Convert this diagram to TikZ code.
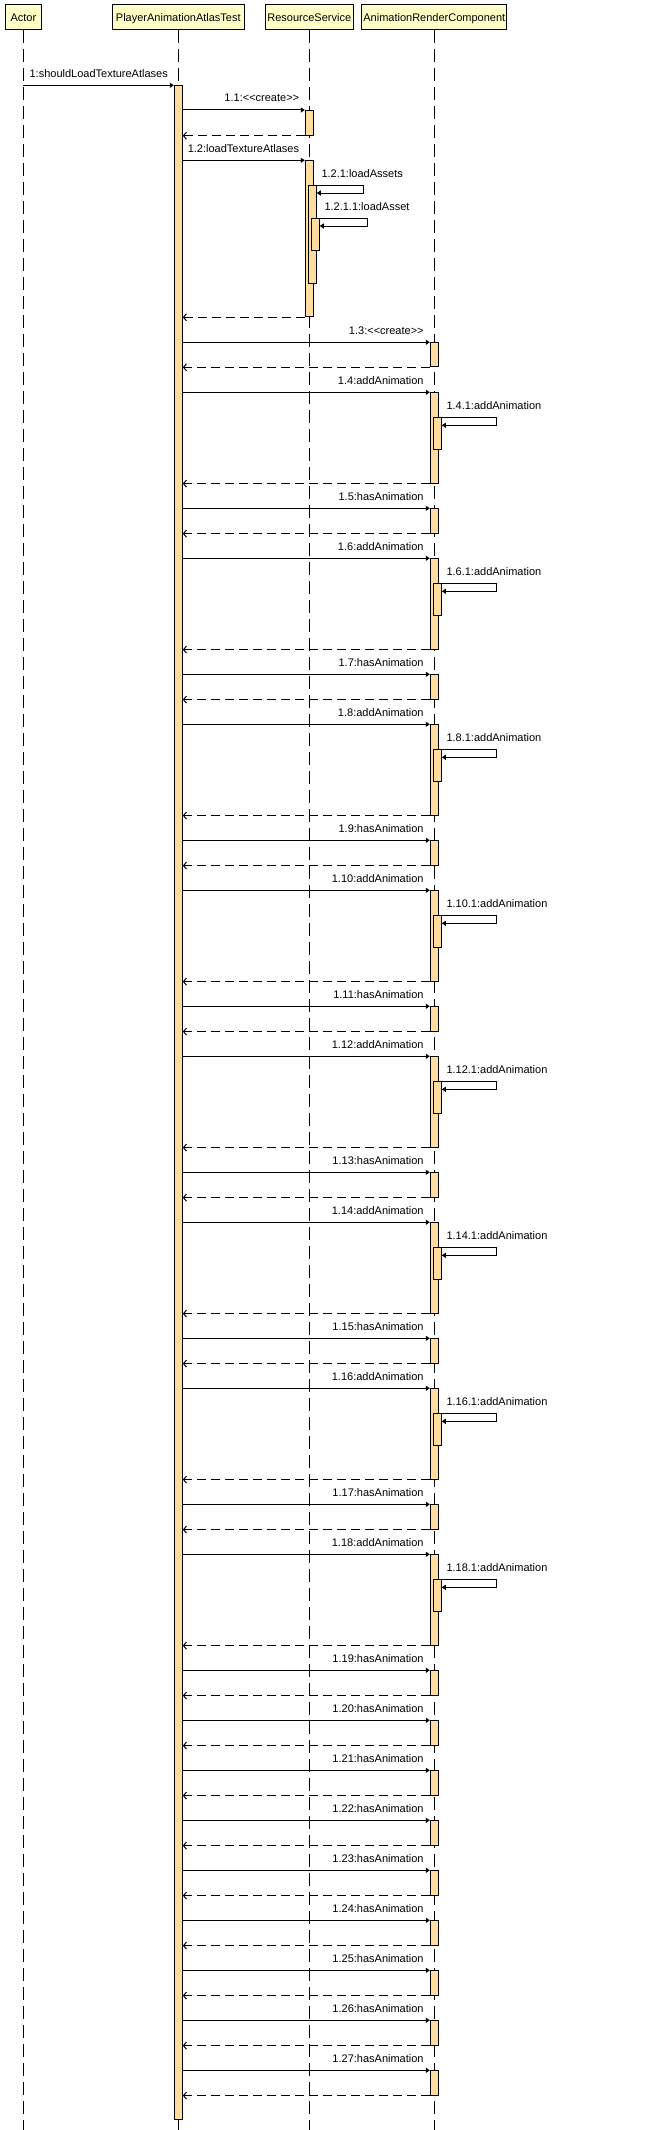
\documentclass[tikz,border=0pt]{standalone}
\usepackage{fontspec}
\newfontfamily\umlfont{Liberation Sans}
\usepackage{tikz}
\usetikzlibrary{arrows.meta}
\definecolor{boxyellow}{RGB}{255,255,200}
\definecolor{actorange}{RGB}{255,220,160}
\pgfdeclarelayer{nodelayer}
\pgfdeclarelayer{edgelayer}
\pgfsetlayers{edgelayer,nodelayer,main}
\tikzstyle{none}=[inner sep=0pt]
\tikzset{lifebox/.style={draw, fill=boxyellow, line width=1pt, inner sep=0pt, minimum height=24.5pt, text height=7.9pt, text depth=0pt}}
\tikzset{act/.style={draw, fill=actorange, line width=1pt, inner sep=0pt, minimum width=8pt, anchor=north}}
\tikzset{msglabel/.style={inner sep=0pt, anchor=base east}}
\tikzset{selflabel/.style={inner sep=0pt, anchor=base west}}
\tikzset{msg/.style={line width=1pt, -{Triangle[length=4pt, width=5pt]}}}
\tikzset{ret/.style={line width=1pt, dash pattern=on 9pt off 5pt, -{Straight Barb[length=3pt, width=7pt]}}}
\tikzset{lifeline/.style={line width=1pt, dash pattern=on 13pt off 6pt}}

\begin{document}
\begin{tikzpicture}[x=1pt, y=1pt, font=\umlfont\fontsize{11}{13}\selectfont]
        \useasboundingbox (0, 0) rectangle (658, -2130);
        \begin{pgfonlayer}{nodelayer}
            \node [style=lifebox, minimum width=36.5pt] (0) at (23.4, -17.25) {Actor};
            \node [style=lifebox, minimum width=131.7pt] (1) at (178.3, -17.25) {PlayerAnimationAtlasTest};
            \node [style=lifebox, minimum width=88pt] (2) at (309.3, -17.25) {ResourceService};
            \node [style=lifebox, minimum width=145.2pt] (3) at (434.3, -17.25) {AnimationRenderComponent};
            \node [style=none] (4) at (0, -2130) {};
            \node [style=act, minimum height=2034pt] (5) at (178.3, -85.3) {};
            \node [style=msglabel] (6) at (168, -77.3) {1:shouldLoadTextureAtlases};

            \node [style=act, minimum height=24.7pt] (7) at (309.3, -110) {};
            \node [style=msglabel] (8) at (299.3, -102) {1.1:<<create>>};

            \node [style=act, minimum height=156pt] (9) at (309.3, -160.3) {};
            \node [style=msglabel] (10) at (299.3, -152.3) {1.2:loadTextureAtlases};
            \node [style=act, minimum height=98pt] (11) at (312.3, -185.3) {};
            \node [style=selflabel] (12) at (321.3, -177.3) {1.2.1:loadAssets};
            \node [style=none] (13) at (363.4, -193) {};
            \node [style=act, minimum height=31.7pt] (14) at (315.3, -218.3) {};
            \node [style=selflabel] (15) at (324.3, -210.3) {1.2.1.1:loadAsset};
            \node [style=none] (16) at (367.6, -226) {};

            \node [style=act, minimum height=24pt] (17) at (434.3, -342.3) {};
            \node [style=msglabel] (18) at (423.8, -334.3) {1.3:<<create>>};

            \node [style=act, minimum height=90.3pt] (19) at (434.3, -392.3) {};
            \node [style=msglabel] (20) at (423.8, -384.3) {1.4:addAnimation};
            \node [style=act, minimum height=31.7pt] (21) at (437.3, -417.3) {};
            \node [style=selflabel] (22) at (446.3, -409.3) {1.4.1:addAnimation};
            \node [style=none] (23) at (496.3, -425.3) {};

            \node [style=act, minimum height=24.3pt] (24) at (434.3, -508.3) {};
            \node [style=msglabel] (25) at (423.8, -500.3) {1.5:hasAnimation};

            \node [style=act, minimum height=90.3pt] (26) at (434.3, -558.3) {};
            \node [style=msglabel] (27) at (423.8, -550.3) {1.6:addAnimation};
            \node [style=act, minimum height=31.7pt] (28) at (437.3, -583.3) {};
            \node [style=selflabel] (29) at (446.3, -575.3) {1.6.1:addAnimation};
            \node [style=none] (30) at (496.3, -591.3) {};

            \node [style=act, minimum height=24.3pt] (31) at (434.3, -674.3) {};
            \node [style=msglabel] (32) at (423.8, -666.3) {1.7:hasAnimation};

            \node [style=act, minimum height=90.3pt] (33) at (434.3, -724.3) {};
            \node [style=msglabel] (34) at (423.8, -716.3) {1.8:addAnimation};
            \node [style=act, minimum height=31.7pt] (35) at (437.3, -749.3) {};
            \node [style=selflabel] (36) at (446.3, -741.3) {1.8.1:addAnimation};
            \node [style=none] (37) at (496.3, -757.3) {};

            \node [style=act, minimum height=24.3pt] (38) at (434.3, -840.3) {};
            \node [style=msglabel] (39) at (423.8, -832.3) {1.9:hasAnimation};

            \node [style=act, minimum height=90.3pt] (40) at (434.3, -890.3) {};
            \node [style=msglabel] (41) at (423.8, -882.3) {1.10:addAnimation};
            \node [style=act, minimum height=31.7pt] (42) at (437.3, -915.3) {};
            \node [style=selflabel] (43) at (446.3, -907.3) {1.10.1:addAnimation};
            \node [style=none] (44) at (496.3, -923.3) {};

            \node [style=act, minimum height=24.3pt] (45) at (434.3, -1006.3) {};
            \node [style=msglabel] (46) at (423.8, -998.3) {1.11:hasAnimation};

            \node [style=act, minimum height=90.3pt] (47) at (434.3, -1056.3) {};
            \node [style=msglabel] (48) at (423.8, -1048.3) {1.12:addAnimation};
            \node [style=act, minimum height=31.7pt] (49) at (437.3, -1081.3) {};
            \node [style=selflabel] (50) at (446.3, -1073.3) {1.12.1:addAnimation};
            \node [style=none] (51) at (496.3, -1089.3) {};

            \node [style=act, minimum height=24.3pt] (52) at (434.3, -1172.3) {};
            \node [style=msglabel] (53) at (423.8, -1164.3) {1.13:hasAnimation};

            \node [style=act, minimum height=90.3pt] (54) at (434.3, -1222.3) {};
            \node [style=msglabel] (55) at (423.8, -1214.3) {1.14:addAnimation};
            \node [style=act, minimum height=31.7pt] (56) at (437.3, -1247.3) {};
            \node [style=selflabel] (57) at (446.3, -1239.3) {1.14.1:addAnimation};
            \node [style=none] (58) at (496.3, -1255.3) {};

            \node [style=act, minimum height=24.3pt] (59) at (434.3, -1338.3) {};
            \node [style=msglabel] (60) at (423.8, -1330.3) {1.15:hasAnimation};

            \node [style=act, minimum height=90.3pt] (61) at (434.3, -1388.3) {};
            \node [style=msglabel] (62) at (423.8, -1380.3) {1.16:addAnimation};
            \node [style=act, minimum height=31.7pt] (63) at (437.3, -1413.3) {};
            \node [style=selflabel] (64) at (446.3, -1405.3) {1.16.1:addAnimation};
            \node [style=none] (65) at (496.3, -1421.3) {};

            \node [style=act, minimum height=24.3pt] (66) at (434.3, -1504.3) {};
            \node [style=msglabel] (67) at (423.8, -1496.3) {1.17:hasAnimation};

            \node [style=act, minimum height=90.3pt] (68) at (434.3, -1554.3) {};
            \node [style=msglabel] (69) at (423.8, -1546.3) {1.18:addAnimation};
            \node [style=act, minimum height=31.7pt] (70) at (437.3, -1579.3) {};
            \node [style=selflabel] (71) at (446.3, -1571.3) {1.18.1:addAnimation};
            \node [style=none] (72) at (496.3, -1587.3) {};

            \node [style=act, minimum height=24.3pt] (73) at (434.3, -1670.3) {};
            \node [style=msglabel] (74) at (423.8, -1662.3) {1.19:hasAnimation};
            \node [style=act, minimum height=24.3pt] (75) at (434.3, -1720.3) {};
            \node [style=msglabel] (76) at (423.8, -1712.3) {1.20:hasAnimation};
            \node [style=act, minimum height=24.3pt] (77) at (434.3, -1770.3) {};
            \node [style=msglabel] (78) at (423.8, -1762.3) {1.21:hasAnimation};
            \node [style=act, minimum height=24.3pt] (79) at (434.3, -1820.3) {};
            \node [style=msglabel] (80) at (423.8, -1812.3) {1.22:hasAnimation};
            \node [style=act, minimum height=24.3pt] (81) at (434.3, -1870.3) {};
            \node [style=msglabel] (82) at (423.8, -1862.3) {1.23:hasAnimation};
            \node [style=act, minimum height=24.3pt] (83) at (434.3, -1920.3) {};
            \node [style=msglabel] (84) at (423.8, -1912.3) {1.24:hasAnimation};
            \node [style=act, minimum height=24.3pt] (85) at (434.3, -1970.3) {};
            \node [style=msglabel] (86) at (423.8, -1962.3) {1.25:hasAnimation};
            \node [style=act, minimum height=24.3pt] (87) at (434.3, -2020.3) {};
            \node [style=msglabel] (88) at (423.8, -2012.3) {1.26:hasAnimation};
            \node [style=act, minimum height=24.3pt] (89) at (434.3, -2070.3) {};
            \node [style=msglabel] (90) at (423.8, -2062.3) {1.27:hasAnimation};
        \end{pgfonlayer}
        \begin{pgfonlayer}{edgelayer}
            \draw [style=lifeline] (0.south) to (0.south |- 4.center);
            \draw [style=lifeline] (1.south) to (1.south |- 4.center);
            \draw [style=lifeline] (2.south) to (2.south |- 4.center);
            \draw [style=lifeline] (3.south) to (3.south |- 4.center);
            \draw [style=msg] (0.south |- 5.north) to (5.north west);

            \draw [style=msg] (5.east |- 7.north) to (7.north west);
            \draw [style=ret] (7.south west) to (7.south west -| 5.east);
            \draw [style=msg] (5.east |- 9.north) to (9.north west);
            \draw [style=msg] (11.north east) -| (13.center) to (13.center -| 11.east);
            \draw [style=msg] (14.north east) -| (16.center) to (16.center -| 14.east);
            \draw [style=ret] (9.south west) to (9.south west -| 5.east);

            \draw [style=msg] (5.east |- 17.north) to (17.north west);
            \draw [style=ret] (17.south west) to (17.south west -| 5.east);
            \draw [style=msg] (5.east |- 19.north) to (19.north west);
            \draw [style=msg] (21.north east) -| (23.center) to (23.center -| 21.east);
            \draw [style=ret] (19.south west) to (19.south west -| 5.east);
            \draw [style=msg] (5.east |- 24.north) to (24.north west);
            \draw [style=ret] (24.south west) to (24.south west -| 5.east);
            \draw [style=msg] (5.east |- 26.north) to (26.north west);
            \draw [style=msg] (28.north east) -| (30.center) to (30.center -| 28.east);
            \draw [style=ret] (26.south west) to (26.south west -| 5.east);
            \draw [style=msg] (5.east |- 31.north) to (31.north west);
            \draw [style=ret] (31.south west) to (31.south west -| 5.east);
            \draw [style=msg] (5.east |- 33.north) to (33.north west);
            \draw [style=msg] (35.north east) -| (37.center) to (37.center -| 35.east);
            \draw [style=ret] (33.south west) to (33.south west -| 5.east);
            \draw [style=msg] (5.east |- 38.north) to (38.north west);
            \draw [style=ret] (38.south west) to (38.south west -| 5.east);
            \draw [style=msg] (5.east |- 40.north) to (40.north west);
            \draw [style=msg] (42.north east) -| (44.center) to (44.center -| 42.east);
            \draw [style=ret] (40.south west) to (40.south west -| 5.east);
            \draw [style=msg] (5.east |- 45.north) to (45.north west);
            \draw [style=ret] (45.south west) to (45.south west -| 5.east);
            \draw [style=msg] (5.east |- 47.north) to (47.north west);
            \draw [style=msg] (49.north east) -| (51.center) to (51.center -| 49.east);
            \draw [style=ret] (47.south west) to (47.south west -| 5.east);
            \draw [style=msg] (5.east |- 52.north) to (52.north west);
            \draw [style=ret] (52.south west) to (52.south west -| 5.east);
            \draw [style=msg] (5.east |- 54.north) to (54.north west);
            \draw [style=msg] (56.north east) -| (58.center) to (58.center -| 56.east);
            \draw [style=ret] (54.south west) to (54.south west -| 5.east);
            \draw [style=msg] (5.east |- 59.north) to (59.north west);
            \draw [style=ret] (59.south west) to (59.south west -| 5.east);
            \draw [style=msg] (5.east |- 61.north) to (61.north west);
            \draw [style=msg] (63.north east) -| (65.center) to (65.center -| 63.east);
            \draw [style=ret] (61.south west) to (61.south west -| 5.east);
            \draw [style=msg] (5.east |- 66.north) to (66.north west);
            \draw [style=ret] (66.south west) to (66.south west -| 5.east);
            \draw [style=msg] (5.east |- 68.north) to (68.north west);
            \draw [style=msg] (70.north east) -| (72.center) to (72.center -| 70.east);
            \draw [style=ret] (68.south west) to (68.south west -| 5.east);
            \draw [style=msg] (5.east |- 73.north) to (73.north west);
            \draw [style=ret] (73.south west) to (73.south west -| 5.east);
            \draw [style=msg] (5.east |- 75.north) to (75.north west);
            \draw [style=ret] (75.south west) to (75.south west -| 5.east);
            \draw [style=msg] (5.east |- 77.north) to (77.north west);
            \draw [style=ret] (77.south west) to (77.south west -| 5.east);
            \draw [style=msg] (5.east |- 79.north) to (79.north west);
            \draw [style=ret] (79.south west) to (79.south west -| 5.east);
            \draw [style=msg] (5.east |- 81.north) to (81.north west);
            \draw [style=ret] (81.south west) to (81.south west -| 5.east);
            \draw [style=msg] (5.east |- 83.north) to (83.north west);
            \draw [style=ret] (83.south west) to (83.south west -| 5.east);
            \draw [style=msg] (5.east |- 85.north) to (85.north west);
            \draw [style=ret] (85.south west) to (85.south west -| 5.east);
            \draw [style=msg] (5.east |- 87.north) to (87.north west);
            \draw [style=ret] (87.south west) to (87.south west -| 5.east);
            \draw [style=msg] (5.east |- 89.north) to (89.north west);
            \draw [style=ret] (89.south west) to (89.south west -| 5.east);
        \end{pgfonlayer}
\end{tikzpicture}
\end{document}
